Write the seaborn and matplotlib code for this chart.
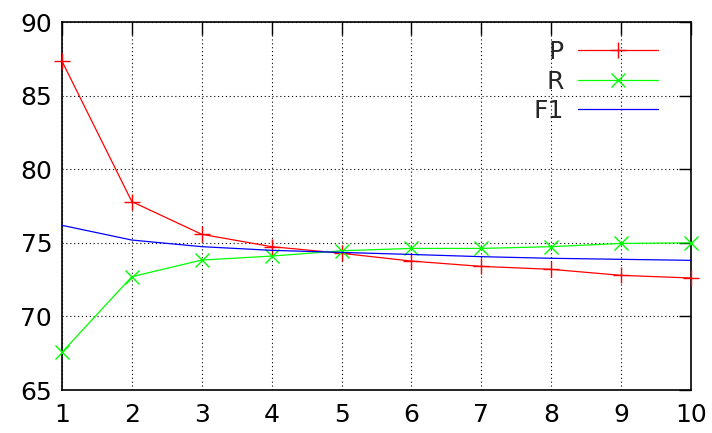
import matplotlib
matplotlib.use("Agg")
import matplotlib.pyplot as plt
import seaborn as sns
import pandas as pd

x_vals = [1, 2, 3, 4, 5, 6, 7, 8, 9, 10]
p_vals = [87.35, 77.8, 75.58, 74.74, 74.29, 73.76, 73.40, 73.2, 72.79, 72.61]
r_vals = [67.56, 72.7, 73.83, 74.1, 74.46, 74.62, 74.62, 74.74, 74.96, 75.0]
f1_vals = [76.19, 75.19, 74.74, 74.49, 74.35, 74.21, 74.06, 73.95, 73.88, 73.81]
series_names = ["P", "R", "F1"]
y_ticks = [65, 70, 75, 80, 85, 90]

sns.set_style("white")
plt.rcParams['font.family'] = ['DejaVu Sans']

fig = plt.figure(figsize=(7.12, 4.33), dpi=100)
ax = fig.add_axes([0.087, 0.0993, 0.8835, 0.8497])

styles = {
    "P": dict(color="#ff0000", marker="+", markersize=11, markeredgewidth=1.0,
              markeredgecolor="#ff0000"),
    "R": dict(color="#00ff00", marker="x", markersize=10, markeredgewidth=1.0,
              markeredgecolor="#00ff00"),
    "F1": dict(color="#0000ff"),
}
for name, vals in zip(series_names, [p_vals, r_vals, f1_vals]):
    df = pd.DataFrame({"x": x_vals, "y": vals})
    sns.lineplot(data=df, x="x", y="y", ax=ax, label=name, linewidth=0.9,
                 clip_on=False, zorder=3, **styles[name])

ax.set_xlim(1, 10)
ax.set_ylim(65, 90)
ax.set_xticks(x_vals)
ax.set_yticks(y_ticks)
ax.set_xlabel("")
ax.set_ylabel("")
ax.grid(True, color="black", linestyle=(0, (1, 2.5)), linewidth=0.8)
ax.set_axisbelow(True)
for sp in ax.spines.values():
    sp.set_color("black")
    sp.set_linewidth(1.2)
ax.tick_params(axis="both", which="major", direction="in", length=9, width=1.0,
               top=True, right=True, labelsize=18, pad=7, colors="black")
ax.tick_params(axis="x", pad=9)

leg = ax.legend(loc="upper right", bbox_to_anchor=(0.984, 1.012), frameon=False,
                markerfirst=False, fontsize=18, handlelength=3.2,
                labelspacing=0.22, handletextpad=0.6)

fig.savefig("out.png", dpi=100)
